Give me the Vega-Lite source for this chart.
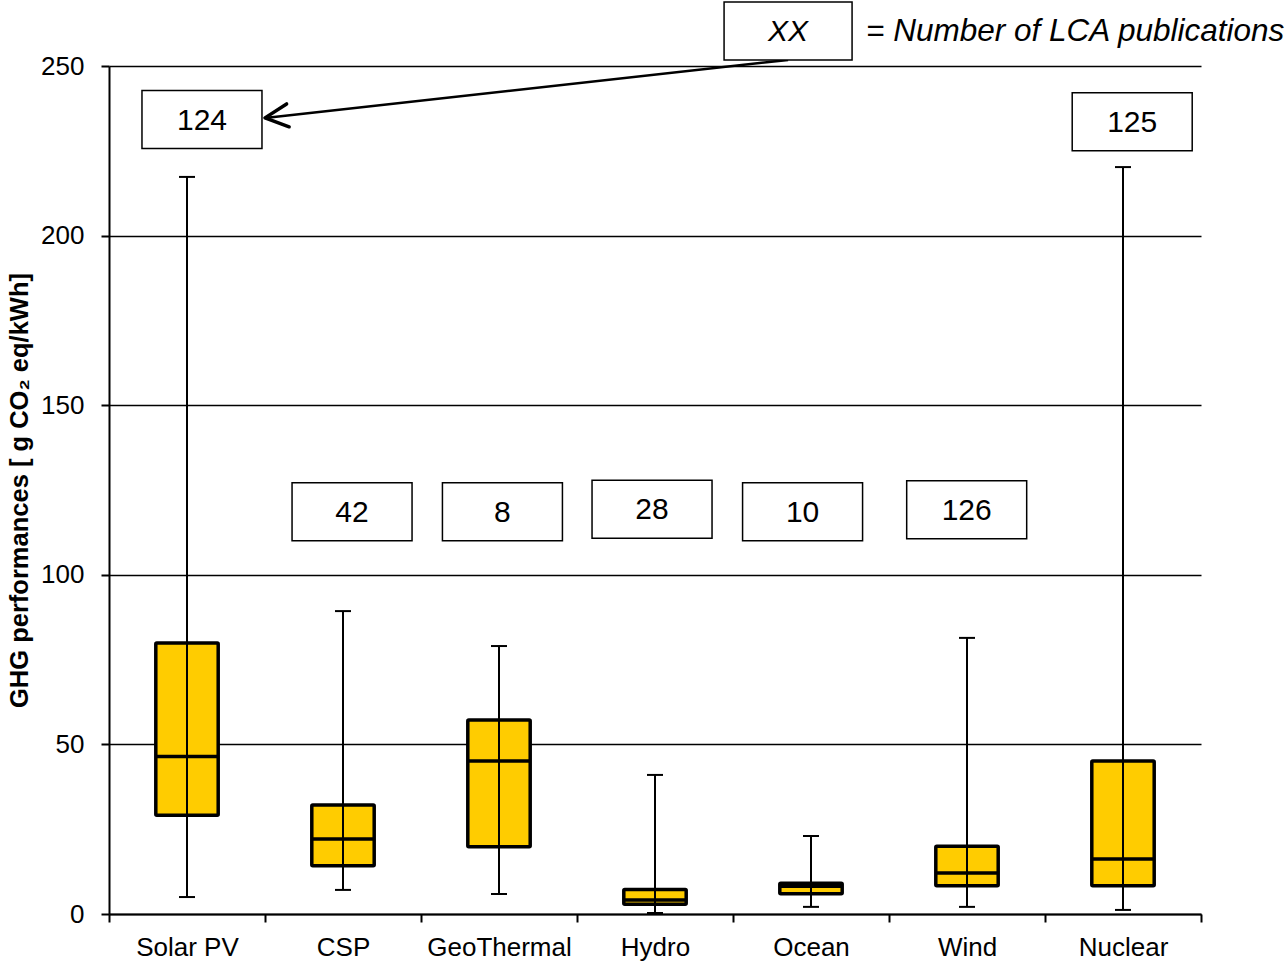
{
  "$schema": "https://vega.github.io/schema/vega-lite/v6.json",
  "autosize": "none",
  "width": 1092,
  "height": 848,
  "padding": {"left": 109, "top": 66, "right": 87, "bottom": 52},
  "background": "white",
  "config": {
    "font": "Liberation Sans",
    "view": {"stroke": null},
    "axis": {"labelFont": "Liberation Sans", "titleFont": "Liberation Sans", "labelColor": "black", "titleColor": "black"}
  },
  "datasets": {
    "stats": [
      {"tech": "Solar PV", "min": 5.0, "q1": 29.1, "median": 46.4, "q3": 79.9, "max": 217.3},
      {"tech": "CSP", "min": 7.1, "q1": 14.2, "median": 22.1, "q3": 32.1, "max": 89.3},
      {"tech": "GeoThermal", "min": 5.9, "q1": 19.8, "median": 45.1, "q3": 57.2, "max": 79.0},
      {"tech": "Hydro", "min": 0.3, "q1": 2.9, "median": 4.1, "q3": 7.2, "max": 41.0},
      {"tech": "Ocean", "min": 2.1, "q1": 6.0, "median": 8.2, "q3": 9.1, "max": 23.0},
      {"tech": "Wind", "min": 2.1, "q1": 8.3, "median": 12.1, "q3": 20.0, "max": 81.4},
      {"tech": "Nuclear", "min": 1.2, "q1": 8.3, "median": 16.2, "q3": 45.1, "max": 220.2}
    ],
    "counts": [
      {"tech": "Solar PV", "n": "124", "x": 0.596, "y": 234.2},
      {"tech": "CSP", "n": "42", "x": 1.558, "y": 118.6},
      {"tech": "GeoThermal", "n": "8", "x": 2.522, "y": 118.6},
      {"tech": "Hydro", "n": "28", "x": 3.481, "y": 119.3},
      {"tech": "Ocean", "n": "10", "x": 4.446, "y": 118.6},
      {"tech": "Wind", "n": "126", "x": 5.498, "y": 119.2},
      {"tech": "Nuclear", "n": "125", "x": 6.559, "y": 233.6}
    ],
    "key": [
      {"label": "XX", "note": "= Number of LCA publications", "x": 4.353, "y": 260.3, "noteX": 4.853, "fromX": 4.353, "fromY": 251.8, "toX": 1.0, "toY": 234.7}
    ]
  },
  "encoding": {
    "y": {
      "type": "quantitative",
      "scale": {"domain": [0, 250], "nice": false, "zero": true},
      "axis": {
        "values": [0, 50, 100, 150, 200, 250],
        "title": "GHG performances [ g CO₂ eq/kWh]",
        "titleFontSize": 25.5,
        "titleFontWeight": "bold",
        "titlePadding": 8,
        "labelFontSize": 26,
        "labelPadding": 17,
        "tickSize": 8,
        "tickWidth": 2,
        "tickColor": "black",
        "domainColor": "black",
        "domainWidth": 2,
        "grid": true,
        "gridColor": "black",
        "gridWidth": 1.5
      }
    }
  },
  "layer": [
    {
      "data": {"name": "stats"},
      "encoding": {
        "x": {
          "field": "tech",
          "type": "nominal",
          "sort": null,
          "scale": {"paddingInner": 0, "paddingOuter": 0},
          "axis": {
            "title": null,
            "labelAngle": 0,
            "labelFontSize": 26,
            "labelPadding": 12,
            "tickBand": "extent",
            "tickSize": 8,
            "tickWidth": 2,
            "tickColor": "black",
            "domainColor": "black",
            "domainWidth": 2,
            "grid": false
          }
        }
      },
      "layer": [
        {
          "mark": {"type": "bar", "width": {"band": 0.4}, "fill": "#FFCC00", "stroke": "black", "strokeWidth": 3.5, "strokeJoin": "round", "cornerRadius": 1},
          "encoding": {"y": {"field": "q1", "type": "quantitative"}, "y2": {"field": "q3"}}
        },
        {
          "mark": {"type": "rule", "color": "black", "strokeWidth": 2},
          "encoding": {"y": {"field": "min", "type": "quantitative"}, "y2": {"field": "max"}}
        },
        {
          "mark": {"type": "tick", "color": "black", "size": 64, "thickness": 3.5, "opacity": 1},
          "encoding": {"y": {"field": "median", "type": "quantitative"}}
        },
        {
          "mark": {"type": "tick", "color": "black", "size": 16, "thickness": 2, "opacity": 1},
          "encoding": {"y": {"field": "min", "type": "quantitative"}}
        },
        {
          "mark": {"type": "tick", "color": "black", "size": 16, "thickness": 2, "opacity": 1},
          "encoding": {"y": {"field": "max", "type": "quantitative"}}
        }
      ]
    },
    {
      "layer": [
        {
          "data": {"name": "counts"},
          "mark": {"type": "point", "shape": "M-1,-0.4833L1,-0.4833L1,0.4833L-1,0.4833Z", "size": 14400, "fill": "white", "stroke": "black", "strokeWidth": 1.5, "opacity": 1, "filled": false, "fillOpacity": 1},
          "encoding": {
            "x": {"field": "x", "type": "quantitative", "scale": {"domain": [0, 7], "nice": false, "zero": false}, "axis": null},
            "y": {"field": "y", "type": "quantitative"}
          }
        },
        {
          "data": {"name": "counts"},
          "mark": {"type": "text", "fontSize": 30, "font": "Liberation Sans", "color": "black", "baseline": "middle", "align": "center", "dy": 1},
          "encoding": {
            "x": {"field": "x", "type": "quantitative"},
            "y": {"field": "y", "type": "quantitative"},
            "text": {"field": "n"}
          }
        },
        {
          "data": {"name": "key"},
          "mark": {"type": "rule", "color": "black", "strokeWidth": 2.5},
          "encoding": {
            "x": {"field": "fromX", "type": "quantitative"},
            "y": {"field": "fromY", "type": "quantitative"},
            "x2": {"field": "toX"},
            "y2": {"field": "toY"}
          }
        },
        {
          "data": {"name": "key"},
          "mark": {"type": "point", "shape": "M1,-0.5L0,0L1,0.5", "size": 2116, "filled": false, "stroke": "black", "strokeWidth": 3.5, "strokeCap": "round", "strokeJoin": "round", "angle": 353.7, "opacity": 1},
          "encoding": {
            "x": {"field": "toX", "type": "quantitative"},
            "y": {"field": "toY", "type": "quantitative"}
          }
        },
        {
          "data": {"name": "key"},
          "mark": {"type": "point", "shape": "M-1,-0.4531L1,-0.4531L1,0.4531L-1,0.4531Z", "size": 16384, "fill": "white", "stroke": "black", "strokeWidth": 1.5, "opacity": 1, "filled": false, "fillOpacity": 1},
          "encoding": {
            "x": {"field": "x", "type": "quantitative"},
            "y": {"field": "y", "type": "quantitative"}
          }
        },
        {
          "data": {"name": "key"},
          "mark": {"type": "text", "fontSize": 30, "fontStyle": "italic", "font": "Liberation Sans", "color": "black", "baseline": "middle", "align": "center", "dy": 1},
          "encoding": {
            "x": {"field": "x", "type": "quantitative"},
            "y": {"field": "y", "type": "quantitative"},
            "text": {"field": "label"}
          }
        },
        {
          "data": {"name": "key"},
          "mark": {"type": "text", "fontSize": 31.5, "fontStyle": "italic", "font": "Liberation Sans", "color": "black", "baseline": "middle", "align": "left", "dy": 1},
          "encoding": {
            "x": {"field": "noteX", "type": "quantitative"},
            "y": {"field": "y", "type": "quantitative"},
            "text": {"field": "note"}
          }
        }
      ]
    }
  ],
  "resolve": {"scale": {"x": "independent"}}
}
